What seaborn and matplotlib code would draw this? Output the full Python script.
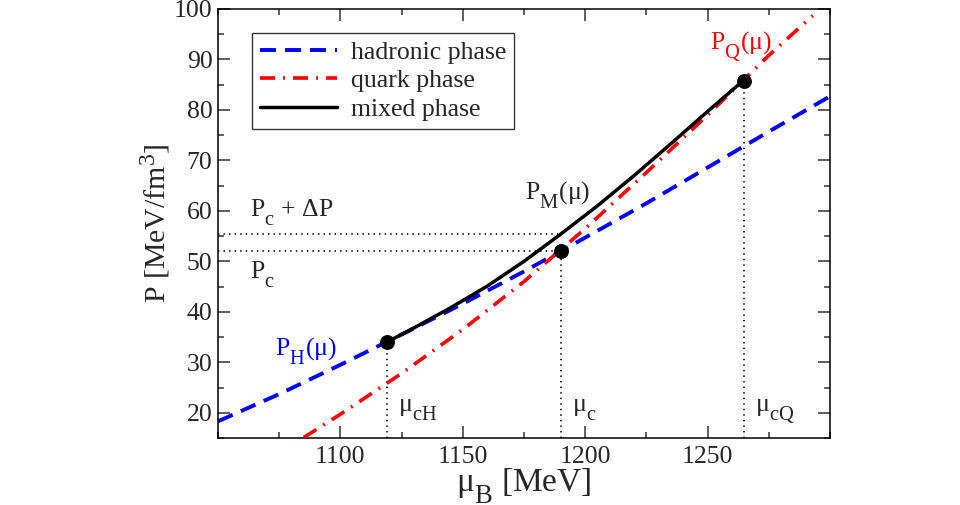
import matplotlib
matplotlib.use("Agg")
import matplotlib.pyplot as plt
import matplotlib._mathtext as _mt
import seaborn as sns
from matplotlib.ticker import MultipleLocator
from matplotlib.lines import Line2D

# ---- data ----
mu_hadronic = [1050, 1075, 1100, 1125, 1150, 1175, 1200, 1225, 1250, 1275, 1300]
p_hadronic = [18.3, 23.7, 29.5, 35.5, 41.6, 48.0, 54.7, 61.5, 68.6, 75.7, 82.7]

mu_quark = [1085, 1100, 1125, 1150, 1175, 1200, 1225, 1250, 1275, 1293]
p_quark = [15.1, 19.7, 27.8, 36.5, 46.0, 56.5, 67.6, 79.0, 90.8, 98.7]

mu_mixed = [1119, 1130, 1145, 1160, 1175, 1190, 1205, 1220, 1235, 1250, 1265]
p_mixed = [34.0, 36.8, 40.8, 45.1, 50.0, 55.4, 61.0, 67.0, 73.3, 79.7, 86.0]

mu_points = [1119, 1190, 1265]
p_points = [34.0, 52.0, 85.7]
point_labels = ["μ$_\\mathrm{cH}$", "μ$_\\mathrm{c}$", "μ$_\\mathrm{cQ}$"]

p_c = 52.0
p_c_dp = 55.4
mu_c_dp = 1189

legend_labels = ["hadronic phase", "quark phase", "mixed phase"]
x_ticks = [1100, 1150, 1200, 1250]
y_ticks = [20, 30, 40, 50, 60, 70, 80, 90, 100]

# ---- style ----
sns.set_style("ticks")
plt.rcParams["font.family"] = ["Liberation Serif", "DejaVu Serif"]
plt.rcParams["mathtext.fontset"] = "custom"
plt.rcParams["mathtext.rm"] = "Liberation Serif"
plt.rcParams["mathtext.it"] = "Liberation Serif:italic"
plt.rcParams["mathtext.bf"] = "Liberation Serif:bold"
plt.rcParams["lines.scale_dashes"] = False
# larger, lower subscripts as in the reference
_mt.SHRINK_FACTOR = 0.8
_mt.FontConstantsBase.sub1 = 0.8

fig = plt.figure(figsize=(9.6, 5.05), dpi=100)
ax = fig.add_axes([0.2271, 0.1327, 0.6375, 0.8495])

blue = "#0000ff"
red = "#ff0000"
ls_blue = (0, (11.5, 6.5))
ls_red = (0, (10.8, 5.8, 1.4, 5.8))
ls_dot = (0, (1.0, 3.0))

# dotted guide lines
for m, p in zip(mu_points, p_points):
    ax.plot([m, m], [15, p], color="black", lw=1.2, linestyle=ls_dot, zorder=1)
ax.plot([1050, mu_points[1]], [p_c, p_c], color="black", lw=1.2, linestyle=ls_dot, zorder=1)
ax.plot([1050, mu_c_dp], [p_c_dp, p_c_dp], color="black", lw=1.2, linestyle=ls_dot, zorder=1)

sns.lineplot(x=mu_hadronic, y=p_hadronic, ax=ax, color=blue, lw=2.8,
             linestyle=ls_blue, estimator=None, sort=False, legend=False, zorder=2)
sns.lineplot(x=mu_quark, y=p_quark, ax=ax, color=red, lw=2.6,
             linestyle=ls_red, estimator=None, sort=False, legend=False, zorder=3)
sns.lineplot(x=mu_mixed, y=p_mixed, ax=ax, color="black", lw=2.5,
             estimator=None, sort=False, legend=False, zorder=4)
sns.scatterplot(x=mu_points, y=p_points, ax=ax, color="black", s=115,
                edgecolor="black", linewidth=0, zorder=5, legend=False)

ax.set_xlim(1050, 1300)
ax.set_ylim(15, 100)
ax.set_xticks(x_ticks)
ax.set_yticks(y_ticks)
ax.xaxis.set_minor_locator(MultipleLocator(25))
ax.yaxis.set_minor_locator(MultipleLocator(5))
ax.tick_params(which="both", direction="in", top=True, right=True, width=1.1, color="#333333")
ax.tick_params(which="major", length=8.5, labelsize=18.5)
ax.tick_params(which="minor", length=4.3)
ax.tick_params(axis="y", which="major", pad=4)
ax.tick_params(axis="x", which="major", pad=6)
for s in ax.spines.values():
    s.set_linewidth(1.1)
    s.set_color("black")

ax.set_xlabel("μ$_\\mathrm{B}$ [MeV]", fontsize=24)
ax.set_ylabel("P [MeV/fm$^\\mathrm{3}$]", fontsize=21.5)
ax.xaxis.label.set_va("center")
ax.yaxis.label.set_va("center")
ax.xaxis.set_label_coords(0.50, -0.111)
ax.yaxis.set_label_coords(-0.103, 0.50)

# annotations
fs = 18.5
ax.text(1063.1, 58.85, "P$_\\mathrm{c}$ + ΔP", fontsize=fs, va="baseline")
ax.text(1063.1, 46.7, "P$_\\mathrm{c}$", fontsize=fs, va="baseline")
ax.text(1175.4, 62.2, "P$_\\mathrm{M}$(μ)", fontsize=fs, va="baseline")
ax.text(1073.3, 31.4, "P$_\\mathrm{H}$(μ)", fontsize=fs, va="baseline", color=blue)
ax.text(1251.0, 91.9, "P$_\\mathrm{Q}$(μ)", fontsize=fs, va="baseline", color=red)
for m, lab in zip(mu_points, point_labels):
    ax.text(m + 4.5, 20.3, lab, fontsize=fs, va="baseline")

handles = [
    Line2D([], [], color=blue, lw=2.8, linestyle=ls_blue),
    Line2D([], [], color=red, lw=2.6, linestyle=ls_red),
    Line2D([], [], color="black", lw=2.5),
]
leg = ax.legend(handles, legend_labels, loc="upper left", bbox_to_anchor=(0.0556, 0.944),
                borderaxespad=0, fontsize=18.5, frameon=True, fancybox=False,
                handlelength=3.0, handletextpad=0.55, labelspacing=0.22,
                borderpad=0.3)
leg.get_frame().set_edgecolor("black")
leg.get_frame().set_linewidth(1.0)

fig.savefig("out.png", dpi=100)
